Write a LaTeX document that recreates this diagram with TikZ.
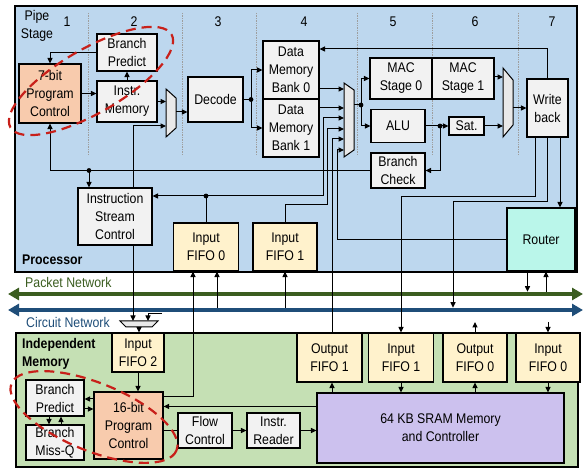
\documentclass[tikz,border=0pt]{standalone}
\usepackage{fontspec}
\setmainfont{Liberation Sans}[FakeStretch=0.88]
\usetikzlibrary{arrows.meta}
\definecolor{procblue}{HTML}{BDD7EE}
\definecolor{memgreen}{HTML}{C5E0B4}
\definecolor{fifoyel}{HTML}{FFF2CC}
\definecolor{unitgray}{HTML}{F2F2F2}
\definecolor{muxgray}{HTML}{E9E9E9}
\definecolor{pcsalmon}{HTML}{F8CBAD}
\definecolor{routermint}{HTML}{BAF6EA}
\definecolor{sramlilac}{HTML}{CCC1EE}
\definecolor{pktgreen}{HTML}{3B5D20}
\definecolor{cirblue}{HTML}{1F4E79}
\definecolor{ringred}{HTML}{C8201A}
\definecolor{stagegray}{HTML}{9E9E9E}
\newcommand{\jdot}[1]{%
	\fill (#1) circle[radius=2.4pt];
}
\tikzset{
	unit/.style={draw, line width=1.1pt, fill=unitgray, align=center, inner sep=0pt},
	fifo/.style={unit, fill=fifoyel},
	wire/.style={line width=1pt},
	arr/.style={wire, -{Triangle[length=5.5pt,width=5pt]}},
	net/.style={line width=4pt, {Triangle[length=11pt,width=12pt]}-{Triangle[length=11pt,width=12pt]}},
	muxshape/.style={draw, line width=1pt, fill=muxgray},
	ring/.style={ringred, line width=2.2pt, dash pattern=on 10pt off 6pt},
	divider/.style={stagegray, densely dotted, line width=0.7pt},
	lbl/.style={inner sep=0pt}
}
\begin{document}
\begin{tikzpicture}[x=1pt, y=-1pt, font=\fontsize{14}{18}\selectfont]
	% Fixed white canvas, same size as the reference.
	\path[use as bounding box] (0,0) rectangle (587,470);
	\fill[white] (0,0) rectangle (587,470);

	% Processor and independent memory tiles.
	\filldraw[fill=procblue, line width=2.5pt] (15,6) rectangle (577,272);
	\filldraw[fill=memgreen, line width=2.5pt] (16,333) rectangle (578,467);

	% Pipeline stage dividers and numbers.
	\foreach \x in {88,182,256,357,432,518}
		\draw[divider] (\x,13) -- (\x,155);
	\foreach \x/\n in {67/1,134/2,218/3,304/4,393/5,475/6,552/7}
		\node[lbl] (stage\n) at (\x,22) {\n};
	\node[lbl, align=center] (pipeLbl) at (37,26) {Pipe\\Stage};
	\node[lbl, anchor=west, font=\fontsize{14}{18}\selectfont\bfseries] (procLbl) at (22,260) {Processor};
	\node[lbl, anchor=west, align=left, font=\fontsize{14}{18}\selectfont\bfseries] (memLbl) at (22,354) {Independent\\Memory};

	% Packet and circuit networks.
	\coordinate (pnW) at (8,294);
	\coordinate (pnE) at (583,294);
	\coordinate (cnW) at (8,310);
	\coordinate (cnE) at (583,310);
	\draw[net, pktgreen] (pnW) -- (pnE);
	\draw[net, cirblue] (cnW) -- (cnE);
	\node[lbl, anchor=west, text=pktgreen] (pktLbl) at (25,282) {Packet Network};
	\node[lbl, anchor=west, text=cirblue] (cirLbl) at (26,322) {Circuit Network};

	% Processor units.
	\node[unit, minimum width=60pt, minimum height=37pt] (bpA) at (127,52.5) {Branch\\Predict};
	\node[unit, fill=pcsalmon, minimum width=62pt, minimum height=59pt] (pcA) at (50,93.5) {7-bit\\Program\\Control};
	\node[unit, minimum width=60pt, minimum height=41pt] (imA) at (127,101.5) {Instr.\\Memory};
	\node[unit, minimum width=55pt, minimum height=45pt] (dec) at (215.5,99.5) {Decode};
	\node[unit, minimum width=56pt, minimum height=58pt] (bank0) at (291,70) {Data\\Memory\\Bank 0};
	\node[unit, minimum width=56pt, minimum height=58pt] (bank1) at (291,128) {Data\\Memory\\Bank 1};
	\node[unit, minimum width=62pt, minimum height=41pt] (mac0) at (401,78.5) {MAC\\Stage 0};
	\node[unit, minimum width=62pt, minimum height=41pt] (mac1) at (463,78.5) {MAC\\Stage 1};
	\node[unit, minimum width=54pt, minimum height=33pt] (alu) at (398,126) {ALU};
	\node[unit, minimum width=35pt, minimum height=18pt] (sat) at (466.5,126) {Sat.};
	\node[unit, minimum width=41pt, minimum height=58pt] (wb) at (547.5,108) {Write\\back};
	\node[unit, minimum width=54pt, minimum height=35pt] (bc) at (398,170.5) {Branch\\Check};
	\node[unit, minimum width=74pt, minimum height=57pt] (isc) at (115,216.5) {Instruction\\Stream\\Control};
	\node[fifo, minimum width=65pt, minimum height=48pt] (fifoA0) at (206,247) {Input\\FIFO 0};
	\node[fifo, minimum width=64pt, minimum height=48pt] (fifoA1) at (285,247) {Input\\FIFO 1};
	\node[unit, fill=routermint, minimum width=68pt, minimum height=63pt] (router) at (541,239.5) {Router};

	% Independent memory units.
	\node[unit, minimum width=58pt, minimum height=36pt] (bpB) at (55,398) {Branch\\Predict};
	\node[unit, minimum width=58pt, minimum height=35pt] (mqB) at (55,442.5) {Branch\\Miss-Q};
	\node[unit, fill=pcsalmon, minimum width=69pt, minimum height=67pt] (pcB) at (128.5,425.5) {16-bit\\Program\\Control};
	\node[fifo, minimum width=52pt, minimum height=39pt] (fifoB2) at (138,352.5) {Input\\FIFO 2};
	\node[unit, minimum width=54pt, minimum height=35pt] (flow) at (205,430.5) {Flow\\Control};
	\node[unit, minimum width=53pt, minimum height=35pt] (reader) at (273.5,430.5) {Instr.\\Reader};
	\node[unit, fill=sramlilac, minimum width=247pt, minimum height=70pt] (sram) at (440.5,428) {64 KB SRAM Memory\\and Controller};
	\node[fifo, minimum width=65pt, minimum height=49pt] (ofifo1) at (329.5,357.5) {Output\\FIFO 1};
	\node[fifo, minimum width=65pt, minimum height=49pt] (ififo1) at (401,357.5) {Input\\FIFO 1};
	\node[fifo, minimum width=64pt, minimum height=49pt] (ofifo0) at (475,357.5) {Output\\FIFO 0};
	\node[fifo, minimum width=64pt, minimum height=49pt] (ififo0) at (548,357.5) {Input\\FIFO 0};

	% Multiplexers and their ports.
	\filldraw[muxshape] (166,89) -- (176,98) -- (176,128) -- (166,137) -- cycle;
	\filldraw[muxshape] (344,83) -- (354,90) -- (354,150) -- (344,157) -- cycle;
	\filldraw[muxshape] (503,68) -- (513,80) -- (513,125) -- (503,137) -- cycle;
	\filldraw[muxshape] (120,321) -- (158,321) -- (152,327) -- (126,327) -- cycle;
	\coordinate (m1a) at (166,100);
	\coordinate (m1b) at (166,126);
	\coordinate (m1o) at (176,112);
	\coordinate (m2a) at (344,89);
	\coordinate (m2b) at (344,108);
	\coordinate (m2c) at (344,118);
	\coordinate (m2d) at (344,129);
	\coordinate (m2e) at (344,139);
	\coordinate (m2f) at (344,150);
	\coordinate (m2o) at (354,105);
	\coordinate (m3a) at (503,77);
	\coordinate (m3b) at (503,126);
	\coordinate (m3o) at (513,108);
	\coordinate (cmA) at (133,321);
	\coordinate (cmB) at (148,321);
	\coordinate (cmO) at (139,327);
	\coordinate (cmS) at (162,314);

	% Junctions, bus columns and stubs.
	\coordinate (dA) at (251,99.5);
	\coordinate (dB) at (206,196);
	\coordinate (dC) at (361,105);
	\coordinate (dD) at (440,126);
	\coordinate (dE) at (89,170.5);
	\coordinate (bx1) at (323,0);
	\coordinate (bx2) at (327,0);
	\coordinate (bx4) at (337,0);
	\coordinate (cnTap) at (453,310);
	\coordinate (oStub) at (475,322);
	\coordinate (iStub) at (548,322);

	% Fetch.
	\draw[arr] (bpA.west) -| (pcA.north);
	\draw[arr] (pcA.east) -- (pcA.east -| imA.west);
	\draw[arr] (imA.north) -- (bpA.south);
	\draw[arr] (imA.east) -- (imA.east -| m1a);
	\draw[arr] ([xshift=18pt]isc.north) |- (m1b);
	\draw[arr] (m1o) -- (m1o -| dec.west);

	% Decode to the data memory banks.
	\draw[wire] (dec.east) -- (dA);
	\draw[arr] (dA) |- (bank0.west);
	\draw[arr] (dA) |- (bank1.west);
	\jdot{dA}

	% Operand mux inputs.
	\draw[arr] (m2a -| bank0.east) -- (m2a);
	\draw[arr] (m2b -| bank1.east) -- (m2b);
	\draw[wire] (fifoA0.north) -- (dB);
	\draw[arr] (dB) -- (dB -| isc.east);
	\draw[arr] (dB) -| (bx1 |- m2c) -- (m2c);
	\jdot{dB}
	\draw[arr] (fifoA1.north) -- ++(0,-18) -| (bx2 |- m2d) -- (m2d);
	\draw[arr] ([xshift=2.5pt]ofifo1.north) |- (m2e);
	\draw[arr] (router.west) -| (bx4 |- m2f) -- (m2f);

	% Execute.
	\draw[wire] (m2o) -- (dC);
	\draw[arr] (dC) |- (mac0.west);
	\draw[arr] (dC) |- (alu.west);
	\jdot{dC}
	\draw[arr] (alu.east) -- (sat.west);
	\draw[arr] (dD) |- (bc.east);
	\jdot{dD}
	\draw[arr] (mac1.east |- m3a) -- (m3a);
	\draw[arr] (sat.east) -- (m3b);
	\draw[arr] (m3o) -- (wb.west);

	% Write back.
	\draw[arr] (wb.north) |- ([yshift=21pt]bank0.east);
	\draw[arr] ([xshift=12.5pt]wb.south) -- ([xshift=12.5pt]wb.south |- router.north);
	\draw[arr, shorten >=2.3pt] (wb.south) -- ++(0,64) -| (cnTap);
	\draw[arr] ([xshift=-12.5pt]wb.south) -- ++(0,59) -| (ififo1.north);

	% Branch resolution.
	\draw[arr] (bc.west) -| (pcA.south);
	\draw[arr] (dE) -- (dE |- isc.north);
	\jdot{dE}

	% Router and network taps.
	\draw[arr, shorten >=2.3pt] ([xshift=-13.5pt]router.south) -- ([xshift=-13.5pt]router.south |- pnE);
	\draw[arr, shorten <=2.3pt] ([xshift=5pt]router.south |- pnE) -- ([xshift=5pt]router.south);
	\draw[arr, shorten <=2.3pt] ([xshift=11pt]fifoA0.south |- cnE) -- ([xshift=11pt]fifoA0.south);
	\draw[arr, shorten <=2.3pt] (fifoA1.south |- cnE) -- (fifoA1.south);

	% Circuit mux into Input FIFO 2.
	\draw[arr] ([xshift=18pt]isc.south) -- (cmA);
	\draw[arr] (cmS) -| (cmB);
	\draw[arr] (cmO) -- (cmO |- fifoB2.north);

	% Independent memory control.
	\draw[arr] (fifoB2.south) -- (fifoB2.south |- pcB.north);
	\draw[arr] ([yshift=-1pt]bpB.east -| pcB.west) -- ([yshift=-1pt]bpB.east);
	\draw[arr] ([yshift=-11pt]bpB.east) -- ([yshift=-11pt]bpB.east -| pcB.west);
	\draw[arr] ([xshift=-6pt]bpB.south) -- ([xshift=-6pt]bpB.south |- mqB.north);
	\draw[arr] ([xshift=6pt]mqB.north) -- ([xshift=6pt]mqB.north |- bpB.south);
	\draw[wire] (flow.west -| pcB.east) -- (flow.west);
	\draw[arr] (flow.east) -- (reader.west);
	\draw[arr] (reader.east) -- (reader.east -| sram.west);
	\draw[arr] ([yshift=-14pt]sram.north west) -- ([yshift=-14pt]sram.north west -| pcB.east);
	\draw[arr] ([yshift=-5pt]pcB.north east) -| ([xshift=-13pt]fifoA0.south);

	% SRAM and its FIFOs.
	\draw[arr] ([xshift=2.5pt]ofifo1.south |- sram.north) -- ([xshift=2.5pt]ofifo1.south);
	\draw[arr] (ififo1.south) -- (ififo1.south |- sram.north);
	\draw[arr] (ofifo0.south |- sram.north) -- (ofifo0.south);
	\draw[arr] (ififo0.south) -- (ififo0.south |- sram.north);
	\draw[arr] (ofifo0.north) -- (oStub);
	\draw[arr] (iStub) -- (ififo0.north);

	% Red dashed rings round the two program-control groups.
	\draw[ring, rotate around={30:(91,81)}] (91,81) ellipse[x radius=93, y radius=32];
	\draw[ring, rotate around={-22:(94,417)}] (94,417) ellipse[x radius=89, y radius=34];
\end{tikzpicture}
\end{document}
